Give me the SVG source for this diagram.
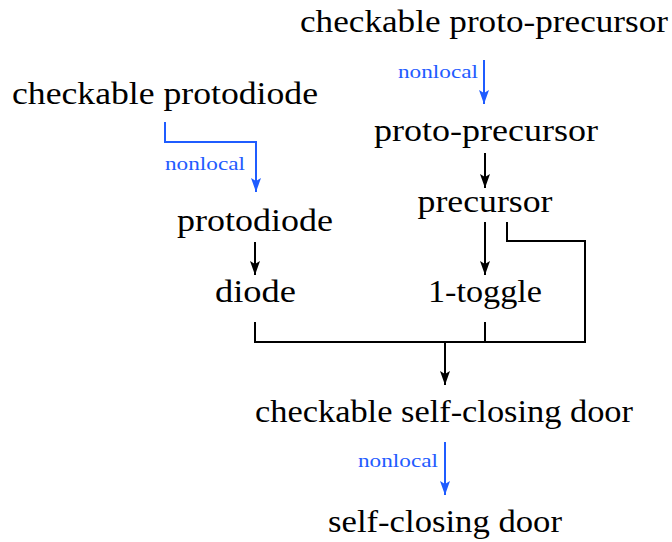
<svg xmlns="http://www.w3.org/2000/svg" width="672" height="542" viewBox="0 0 672 542">
<style>
.lbl{font-family:"Liberation Serif","Times New Roman",serif;font-size:31px;fill:#000;text-anchor:middle}
.nl{font-family:"Liberation Serif","Times New Roman",serif;font-size:19px;fill:#1f5cff;text-anchor:end}
.k{fill:none;stroke:#000;stroke-width:2}
.b{fill:none;stroke:#1f5cff;stroke-width:2}
</style>
<defs>
<marker id="ak" markerUnits="userSpaceOnUse" markerWidth="15" markerHeight="11" refX="14" refY="5.5" orient="auto"><path d="M0,0.5 L14,5.5 L0,10.5 L3,5.5 z" fill="#000"/></marker>
<marker id="ab" markerUnits="userSpaceOnUse" markerWidth="15" markerHeight="11" refX="14" refY="5.5" orient="auto"><path d="M0,0.5 L14,5.5 L0,10.5 L3,5.5 z" fill="#1f5cff"/></marker>
</defs>
<rect width="672" height="542" fill="#fff"/>
<g id="connectors">
<path class="b" d="M484 60 V104" marker-end="url(#ab)"/>
<path class="b" d="M165 122 V142 H256 V192" marker-end="url(#ab)"/>
<path class="k" d="M485 153 V188" marker-end="url(#ak)"/>
<path class="k" d="M255 242 V275" marker-end="url(#ak)"/>
<path class="k" d="M485 222 V275" marker-end="url(#ak)"/>
<path class="k" d="M507 222 V241 H585 V342 H255 V322"/>
<path class="k" d="M485 322 V342"/>
<path class="k" d="M445 342 V385" marker-end="url(#ak)"/>
<path class="b" d="M445 442 V495" marker-end="url(#ab)"/>
<text class="nl" x="478" y="78" textLength="80" lengthAdjust="spacingAndGlyphs">nonlocal</text>
<text class="nl" x="245" y="170" textLength="80" lengthAdjust="spacingAndGlyphs">nonlocal</text>
<text class="nl" x="438" y="467" textLength="80" lengthAdjust="spacingAndGlyphs">nonlocal</text>
</g>
<g id="checkable-proto-precursor"><text class="lbl" x="484" y="32" textLength="368" lengthAdjust="spacingAndGlyphs">checkable proto-precursor</text></g>
<g id="checkable-protodiode"><text class="lbl" x="165" y="104" textLength="306" lengthAdjust="spacingAndGlyphs">checkable protodiode</text></g>
<g id="proto-precursor"><text class="lbl" x="486" y="141" textLength="224" lengthAdjust="spacingAndGlyphs">proto-precursor</text></g>
<g id="precursor"><text class="lbl" x="485" y="212" textLength="135" lengthAdjust="spacingAndGlyphs">precursor</text></g>
<g id="protodiode"><text class="lbl" x="255" y="231" textLength="156" lengthAdjust="spacingAndGlyphs">protodiode</text></g>
<g id="diode"><text class="lbl" x="255.5" y="302" textLength="81" lengthAdjust="spacingAndGlyphs">diode</text></g>
<g id="one-toggle"><text class="lbl" x="485" y="302" textLength="114" lengthAdjust="spacingAndGlyphs">1-toggle</text></g>
<g id="checkable-self-closing-door"><text class="lbl" x="444" y="422" textLength="378" lengthAdjust="spacingAndGlyphs">checkable self-closing door</text></g>
<g id="self-closing-door"><text class="lbl" x="445" y="532" textLength="234" lengthAdjust="spacingAndGlyphs">self-closing door</text></g>
</svg>
